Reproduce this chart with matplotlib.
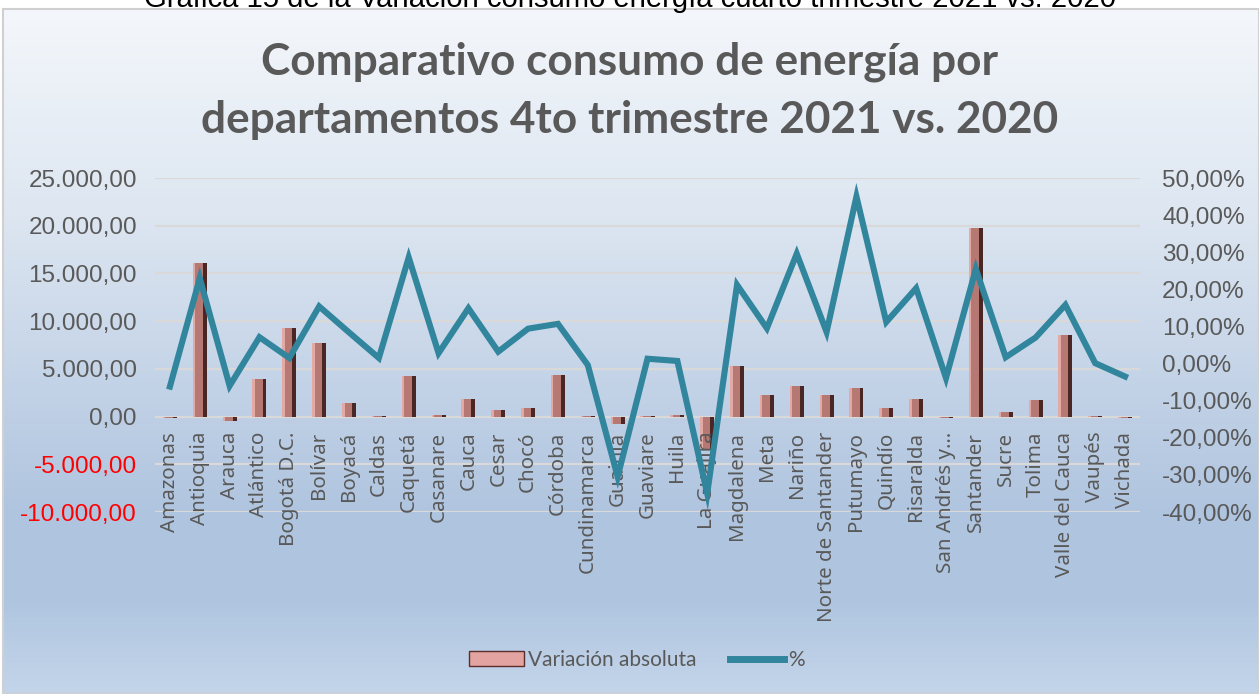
import matplotlib
matplotlib.use("Agg")
import matplotlib.pyplot as plt
import numpy as np
from matplotlib.patches import Patch, Rectangle
from matplotlib.lines import Line2D
from matplotlib.colors import to_rgb

# ---------------- data ----------------
departamentos = ["Amazonas", "Antioquia", "Arauca", "Atlántico", "Bogotá D.C.", "Bolívar",
                 "Boyacá", "Caldas", "Caquetá", "Casanare", "Cauca", "Cesar", "Chocó",
                 "Córdoba", "Cundinamarca", "Guainía", "Guaviare", "Huila", "La Guajira",
                 "Magdalena", "Meta", "Nariño", "Norte de Santander", "Putumayo", "Quindío",
                 "Risaralda", "San Andrés y…", "Santander", "Sucre", "Tolima",
                 "Valle del Cauca", "Vaupés", "Vichada"]
variacion_absoluta = [-200, 16100, -500, 3950, 9300, 7700, 1450, 100, 4250, 200, 1800, 650,
                      850, 4400, 30, -800, 50, 150, -3500, 5300, 2250, 3250, 2300, 3000, 900,
                      1850, -200, 19800, 450, 1750, 8600, 20, -100]
porcentaje = [-6.2, 23.0, -6.0, 7.1, 1.5, 15.4, 8.4, 1.5, 28.6, 2.8, 14.9, 3.2, 9.4, 10.7,
              -0.4, -30.5, 1.3, 0.7, -35.0, 21.2, 9.5, 29.6, 8.5, 45.0, 11.2, 20.3, -3.9,
              25.5, 1.7, 7.0, 15.8, 0.1, -3.5]
left_ticks = [-10000, -5000, 0, 5000, 10000, 15000, 20000, 25000]
right_ticks = [-40, -30, -20, -10, 0, 10, 20, 30, 40, 50]

titulo_l1 = "Comparativo consumo de energía por"
titulo_l2 = "departamentos 4to trimestre 2021 vs. 2020"
caption = "Gráfica 15 de la Variación consumo energía cuarto trimestre 2021 vs. 2020"

W, H = 1259, 694
fig = plt.figure(figsize=(W / 100, H / 100), dpi=100)
fig.patch.set_facecolor("white")

# ---------- gradient chart-area background ----------
fx0, fy0 = 3, 9
bg = fig.add_axes([fx0 / W, 0, (W - fx0) / W, (H - fy0) / H], zorder=-10)
stops = [(0.0, "#f4f7fb"), (0.30, "#dde6f1"), (0.74, "#afc4df"), (0.87, "#b0c6e0"), (1.0, "#c4d5ea")]
n = 400
t = np.linspace(0, 1, n)
cols = np.zeros((n, 3))
for k in range(3):
    cols[:, k] = np.interp(t, [s[0] for s in stops], [to_rgb(s[1])[k] for s in stops])
grad = np.repeat(cols[:, None, :], 2, axis=1)
bg.imshow(grad, aspect="auto", extent=[0, 1, 0, 1], origin="upper")
bg.set_xlim(0, 1); bg.set_ylim(0, 1)
bg.axis("off")
bg.add_patch(Rectangle((0, 0), 1, 1, transform=bg.transAxes, fill=False,
                       edgecolor="#d0d0d0", linewidth=1.5, clip_on=False))

# ---------- caption (cut at top, as in the source) ----------
cap = fig.text(0.5, 1 - 7 / H, caption, ha="center", va="baseline",
               fontsize=19, family="Liberation Sans", color="black")

# ---------- main axes ----------
left_px, right_px, top_px, bot_px = 155, 1140, 178, 512
ax = fig.add_axes([left_px / W, 1 - bot_px / H, (right_px - left_px) / W, (bot_px - top_px) / H])
ax.patch.set_alpha(0)
x = np.arange(len(departamentos))
v = np.array(variacion_absoluta)

bw = 0.47
# bevelled bar look: light left edge, mid body, dark right edge
ax.bar(x - bw / 2, v, width=bw, align="edge", color="#4a2624", zorder=3, linewidth=0)
ax.bar(x - bw / 2, v, width=bw * 0.72, align="edge", color="#b57873", zorder=3, linewidth=0)
ax.bar(x - bw / 2, v, width=bw * 0.18, align="edge", color="#e3aaa5", zorder=3, linewidth=0)

ax.set_xlim(-0.5, len(departamentos) - 0.5)
ax.set_ylim(-10000, 25000)
ax.set_yticks(left_ticks)


def fmt_num(val):
    s = f"{val:,.2f}"
    return s.replace(",", "X").replace(".", ",").replace("X", ".")


ax.set_yticklabels([fmt_num(t_) for t_ in left_ticks], family="Liberation Sans", fontsize=17.5)
for lab, tv in zip(ax.get_yticklabels(), left_ticks):
    lab.set_color("#ff0000" if tv < 0 else "#595959")
ax.tick_params(axis="y", length=0, pad=13)
ax.yaxis.grid(True, color="#d9d9d9", linewidth=1.6)
ax.yaxis.set_zorder(0.5)
ax.xaxis.set_zorder(4)
for sp in ax.spines.values():
    sp.set_visible(False)
ax.spines["bottom"].set_position(("data", 0))
ax.set_xticks(x)
ax.set_xticklabels(departamentos, rotation=90, family="Noto Sans", fontsize=14.8,
                   color="#595959", va="top", ha="center")
ax.tick_params(axis="x", length=0, pad=11)

# ---------- secondary axis ----------
ax2 = ax.twinx()
ax2.patch.set_alpha(0)
ax2.plot(x, porcentaje, color="#31859c", linewidth=4.4, solid_joinstyle="miter", zorder=5)
ax2.set_ylim(-40, 50)
ax2.set_yticks(right_ticks)
ax2.set_yticklabels([f"{t_:.2f}%".replace(".", ",") for t_ in right_ticks],
                    family="Liberation Sans", fontsize=17.5, color="#595959")
ax2.tick_params(axis="y", length=0, pad=16)
for sp in ax2.spines.values():
    sp.set_visible(False)

# ---------- title (two lines) ----------
t1 = fig.text(0.5, 1 - 62 / H, titulo_l1, ha="center", va="center", family="Lato",
              fontweight="bold", fontsize=36, color="#595959")
t2 = fig.text(0.5, 1 - 120 / H, titulo_l2, ha="center", va="center", family="Lato",
              fontweight="bold", fontsize=36, color="#595959")
fig.canvas.draw()
r = fig.canvas.get_renderer()
bb = t2.get_window_extent(r)
fs = 36 * 855 / bb.width
t1.set_fontsize(fs)
t2.set_fontsize(fs)
bb2 = cap.get_window_extent(r)
cap.set_fontsize(19 * 975 / bb2.width)

# ---------- legend ----------
handles = [Patch(facecolor="#e3a3a0", edgecolor="#5a2d2a", linewidth=1.0),
           Line2D([0], [0], color="#31859c", linewidth=5)]
fig.legend(handles, ["Variación absoluta", "%"], loc="center",
           bbox_to_anchor=(637 / W, 1 - 660 / H), ncol=2, frameon=False,
           prop={"family": "Lato", "size": 15}, labelcolor="#595959",
           handlelength=2.6, handletextpad=0.2, columnspacing=1.6)

fig.savefig("out.png", dpi=100, facecolor="white")
